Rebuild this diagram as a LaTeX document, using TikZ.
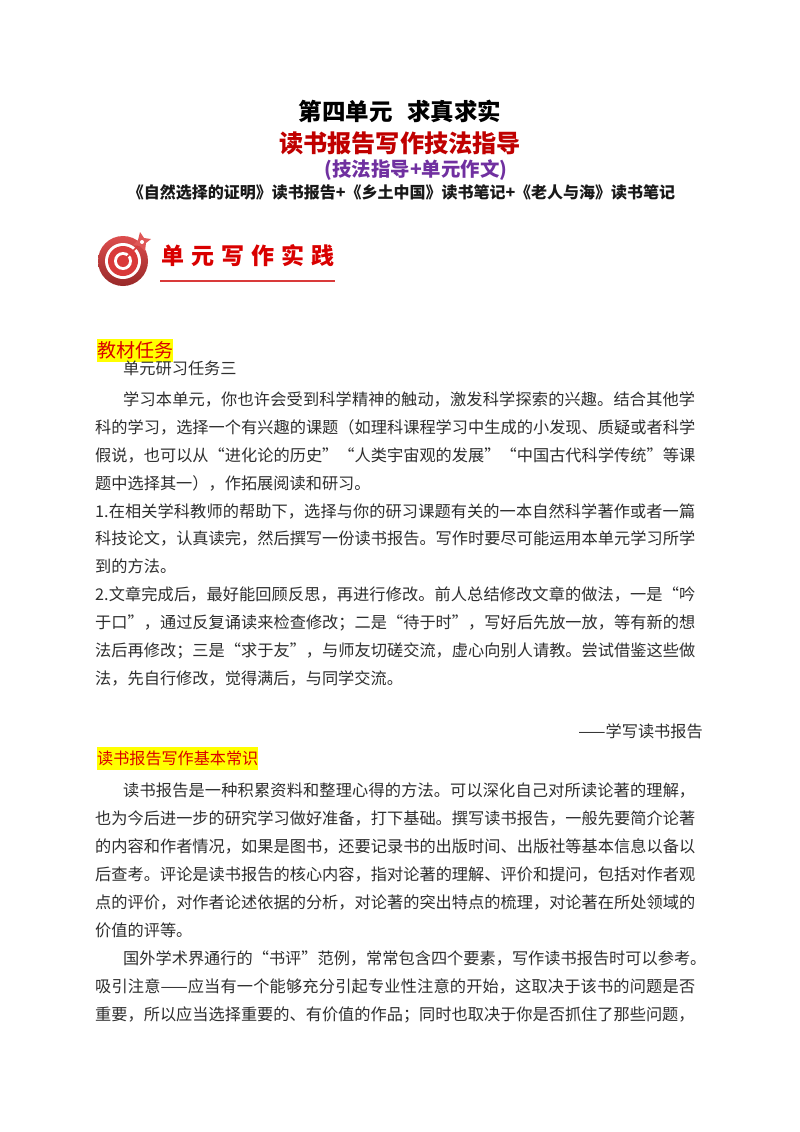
\documentclass[tikz,border=0pt]{standalone}
\usepackage{fontspec}
\setmainfont{Noto Sans CJK SC}
\XeTeXlinebreaklocale "zh"
\XeTeXlinebreakskip=0pt plus 1pt
\definecolor{headred}{HTML}{C00000}
\definecolor{headpurple}{HTML}{7030A0}
\definecolor{markyellow}{HTML}{FFFF00}
\definecolor{logored}{HTML}{D93A3A}
\tikzset{
	titletext/.style={inner sep=0pt,font=\bfseries\fontsize{#1}{#1}\selectfont},
	bodytext/.style={inner sep=0pt,anchor=north west,text width=600pt,align=justify,text=black!82,font=\fontsize{16.2}{27.9}\selectfont},
	marktext/.style={fill=markyellow,text=red!85!black,inner sep=0pt,anchor=west,minimum height=23pt,font=\fontsize{#1}{#1}\selectfont}
}
\begin{document}
\begin{tikzpicture}[x=1pt,y=-1pt]
	\useasboundingbox[fill=white] (0,0) rectangle (800,1132);
	\node[titletext=23.5] (unit) at (400,111) {第四单元\hspace{15pt}求真求实};
	\node[titletext=24.2,text=headred] (title) at (400,143) {读书报告写作技法指导};
	\node[titletext=19.4,text=headpurple] (sub) at (416,170) {(技法指导+单元作文)};
	\node[titletext=16,text=black!90] (books) at (401.5,192) {《自然选择的证明》读书报告+《乡土中国》读书笔记+《老人与海》读书笔记};
	% target logo
	\path (123,261) coordinate (T) (142,242) coordinate (S) (160,281) coordinate (L) (335,281) coordinate (R);
	\shade[top color=logored!90,bottom color=logored!70!black] (T) circle (25);
	\foreach \rad/\col in {18/white,15/logored,9/white,6/logored}
	\fill[\col] (T) circle (\rad);
	\draw[logored,line width=1.6pt] (T)--(S);
	\fill[logored!85] (S)+(-2,-10)--+(2,-4)--+(9,-3)--+(4,1)--+(3,9)--+(-2,4)--+(-9,3)--+(-4,-2)--cycle;
	\fill[white] (S) circle (2);
	\node[inner sep=0pt,text=red!85!black,font=\bfseries\fontsize{23}{23}\selectfont] (logo) at (248,256) {单\hspace{7pt}元\hspace{7pt}写\hspace{7pt}作\hspace{7pt}实\hspace{7pt}践};
	\draw[logored,line width=1.2pt] (L)--(R);
	% task
	\node[marktext=19] (task) at (97,350.5) {教材任务};
	\node[inner sep=0pt,anchor=west,text=black!82,font=\fontsize{16.2}{16.2}\selectfont] (taskname) at (123,368) {单元研习任务三};
	\node[bodytext] (taskbody) at (95,391.5) {\hspace*{28pt}学习本单元，你也许会受到科学精神的触动，激发科学探索的兴趣。结合其他学\linebreak
		科的学习，选择一个有兴趣的课题（如理科课程学习中生成的小发现、质疑或者科学\linebreak
		假说，也可以从“进化论的历史”“人类宇宙观的发展”“中国古代科学传统”等课\linebreak
		题中选择其一），作拓展阅读和研习。\par
		1.在相关学科教师的帮助下，选择与你的研习课题有关的一本自然科学著作或者一篇\linebreak
		科技论文，认真读完，然后撰写一份读书报告。写作时要尽可能运用本单元学习所学\linebreak
		到的方法。\par
		2.文章完成后，最好能回顾反思，再进行修改。前人总结修改文章的做法，一是“吟\linebreak
		于口”，通过反复诵读来检查修改；二是“待于时”，写好后先放一放，等有新的想\linebreak
		法后再修改；三是“求于友”，与师友切磋交流，虚心向别人请教。尝试借鉴这些做\linebreak
		法，先自行修改，觉得满后，与同学交流。};
	\node[inner sep=0pt,anchor=east,text=black!82,font=\fontsize{16.2}{16.2}\selectfont] (source) at (703,731) {——学写读书报告};
	% basics
	\node[marktext=16.1] (basics) at (97,758.5) {读书报告写作基本常识};
	\node[bodytext] (basicsbody) at (95,783) {\hspace*{28pt}读书报告是一种积累资料和整理心得的方法。可以深化自己对所读论著的理解，\linebreak
		也为今后进一步的研究学习做好准备，打下基础。撰写读书报告，一般先要简介论著\linebreak
		的内容和作者情况，如果是图书，还要记录书的出版时间、出版社等基本信息以备以\linebreak
		后查考。评论是读书报告的核心内容，指对论著的理解、评价和提问，包括对作者观\linebreak
		点的评价，对作者论述依据的分析，对论著的突出特点的梳理，对论著在所处领域的\linebreak
		价值的评等。\par
		\mbox{\hspace*{28pt}国外学术界通行的“书评”范例，常常包含四个要素，写作读书报告时可以参考。}\linebreak
		吸引注意——应当有一个能够充分引起专业性注意的开始，这取决于该书的问题是否\linebreak
		重要，所以应当选择重要的、有价值的作品；同时也取决于你是否抓住了那些问题，};
\end{tikzpicture}
\end{document}
